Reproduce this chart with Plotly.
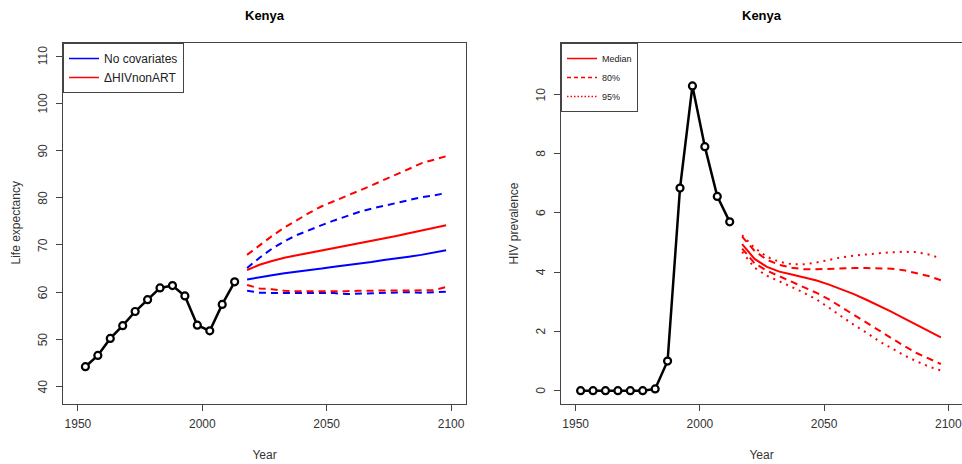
import plotly.graph_objects as go

# ---------------- data: left panel (life expectancy) ----------------
obs_years_le = [1953, 1958, 1963, 1968, 1973, 1978, 1983, 1988, 1993, 1998, 2003, 2008, 2013]
obs_le = [44.2, 46.6, 50.2, 52.9, 55.9, 58.4, 60.9, 61.4, 59.2, 53.0, 51.8, 57.4, 62.2]

proj_years_le = [2018, 2023, 2028, 2033, 2038, 2043, 2048, 2053, 2058, 2063, 2068, 2073, 2078, 2083, 2088, 2093, 2098]
nocov_median = [62.7, 63.2, 63.6, 64.0, 64.3, 64.7, 65.0, 65.4, 65.7, 66.0, 66.4, 66.8, 67.1, 67.5, 67.9, 68.4, 68.9]
nocov_upper = [65.1, 67.3, 69.2, 70.8, 72.1, 73.2, 74.2, 75.2, 76.1, 77.0, 77.7, 78.3, 78.9, 79.5, 80.1, 80.5, 81.0]
nocov_lower = [60.3, 59.9, 59.8, 59.8, 59.7, 59.7, 59.8, 59.8, 59.6, 59.7, 59.8, 59.9, 59.9, 60.0, 59.9, 60.0, 60.1]
hiv_median = [64.7, 65.8, 66.6, 67.3, 67.8, 68.3, 68.8, 69.3, 69.8, 70.3, 70.8, 71.3, 71.9, 72.5, 73.1, 73.7, 74.2]
hiv_upper = [67.9, 70.0, 71.9, 73.7, 75.3, 76.8, 78.2, 79.3, 80.4, 81.4, 82.6, 83.8, 84.9, 86.1, 87.3, 88.0, 88.8]
hiv_lower = [61.5, 60.8, 60.6, 60.3, 60.2, 60.2, 60.2, 60.1, 60.2, 60.3, 60.3, 60.4, 60.4, 60.3, 60.3, 60.4, 61.1]

# ---------------- data: right panel (HIV prevalence) ----------------
obs_years_hiv = [1952, 1957, 1962, 1967, 1972, 1977, 1982, 1987, 1992, 1997, 2002, 2007, 2012]
obs_hiv = [0.0, 0.0, 0.0, 0.0, 0.0, 0.0, 0.06, 1.0, 6.84, 10.29, 8.24, 6.56, 5.70]

proj_years_hiv = [2017, 2022, 2027, 2032, 2037, 2042, 2047, 2052, 2057, 2062, 2067, 2072, 2077, 2082, 2087, 2092, 2097]
prev_median = [4.95, 4.45, 4.18, 4.02, 3.92, 3.83, 3.72, 3.58, 3.42, 3.26, 3.07, 2.88, 2.67, 2.45, 2.23, 2.01, 1.80]
prev_80_up = [5.20, 4.72, 4.42, 4.25, 4.15, 4.10, 4.10, 4.12, 4.13, 4.14, 4.14, 4.14, 4.12, 4.07, 3.98, 3.87, 3.73]
prev_80_lo = [4.80, 4.30, 4.05, 3.86, 3.68, 3.50, 3.30, 3.08, 2.82, 2.55, 2.30, 2.05, 1.78, 1.52, 1.28, 1.08, 0.90]
prev_95_up = [5.25, 4.82, 4.52, 4.35, 4.27, 4.27, 4.33, 4.42, 4.50, 4.56, 4.61, 4.64, 4.67, 4.69, 4.68, 4.60, 4.47]
prev_95_lo = [4.69, 4.15, 3.88, 3.70, 3.50, 3.30, 3.08, 2.80, 2.50, 2.22, 1.96, 1.68, 1.44, 1.20, 1.00, 0.82, 0.68]

le_ticks = [40, 50, 60, 70, 80, 90, 100, 110]
hiv_ticks = [0, 2, 4, 6, 8, 10]
year_ticks = [1950, 2000, 2050, 2100]

left_legend_names = ["No covariates", "\u0394HIVnonART"]
right_legend_names = ["Median", "80%", "95%"]

RED = "#FF0000"
BLUE = "#0000FF"
DASH = "7px,5px"
DOT = "2px,5px"
FONT = "Liberation Sans, Arial, Helvetica, sans-serif"

fig = go.Figure()

# ---- left panel ----
for ys, col, dash in [(nocov_median, BLUE, "solid"), (hiv_median, RED, "solid"),
                      (nocov_upper, BLUE, DASH), (nocov_lower, BLUE, DASH),
                      (hiv_upper, RED, DASH), (hiv_lower, RED, DASH)]:
    fig.add_trace(go.Scatter(x=proj_years_le, y=ys, mode="lines", showlegend=False,
                             line=dict(color=col, width=2, dash=dash), xaxis="x", yaxis="y"))
fig.add_trace(go.Scatter(x=obs_years_le, y=obs_le, mode="lines+markers", showlegend=False,
                         line=dict(color="black", width=2.5),
                         marker=dict(symbol="circle", size=7, color="white",
                                     line=dict(color="black", width=2.2)),
                         xaxis="x", yaxis="y"))
# legend entries (thin lines, as in the original legend)
for name, col in zip(left_legend_names, [BLUE, RED]):
    fig.add_trace(go.Scatter(x=[None], y=[None], mode="lines", name=name, legend="legend",
                             line=dict(color=col, width=1.5, dash="solid"),
                             xaxis="x", yaxis="y"))

# ---- right panel ----
for ys, dash in [(prev_median, "solid"), (prev_80_up, DASH), (prev_80_lo, DASH),
                 (prev_95_up, DOT), (prev_95_lo, DOT)]:
    fig.add_trace(go.Scatter(x=proj_years_hiv, y=ys, mode="lines", showlegend=False,
                             line=dict(color=RED, width=2, dash=dash), xaxis="x2", yaxis="y2"))
fig.add_trace(go.Scatter(x=obs_years_hiv, y=obs_hiv, mode="lines+markers", showlegend=False,
                         line=dict(color="black", width=2.5),
                         marker=dict(symbol="circle", size=7, color="white",
                                     line=dict(color="black", width=2.2)),
                         xaxis="x2", yaxis="y2"))
for name, dash in zip(right_legend_names, ["solid", "4px,3px", "1.5px,2px"]):
    fig.add_trace(go.Scatter(x=[None], y=[None], mode="lines", name=name, legend="legend2",
                             line=dict(color=RED, width=1.5, dash=dash),
                             xaxis="x2", yaxis="y2"))

Y0, Y1 = 1 - 404 / 464, 1 - 43 / 464
axcol = "#444444"
tickfont = dict(family=FONT, size=12, color="#333333")
titlefont = dict(family=FONT, size=12, color="#333333")

common_x = dict(showgrid=False, zeroline=False, showline=True, linecolor=axcol, linewidth=1,
                ticks="outside", ticklen=6, tickcolor=axcol, tickvals=year_ticks,
                tickfont=tickfont, ticklabelstandoff=3, ticklabeloverflow="allow",
                title=dict(text="Year", font=titlefont, standoff=20))
common_y = dict(showgrid=False, zeroline=False, showline=True, linecolor=axcol, linewidth=1,
                ticks="outside", ticklen=6, tickcolor=axcol, showticklabels=False)

annotations = [
    dict(text="<b>Kenya</b>", x=264.5 / 962, y=1 - 15 / 464, xref="paper", yref="paper",
         showarrow=False, xanchor="center", yanchor="middle",
         font=dict(family=FONT, size=13, color="black")),
    dict(text="<b>Kenya</b>", x=762 / 962, y=1 - 15 / 464, xref="paper", yref="paper",
         showarrow=False, xanchor="center", yanchor="middle",
         font=dict(family=FONT, size=13, color="black")),
    dict(text="Life expectancy", x=15 / 962, y=(Y0 + Y1) / 2, xref="paper", yref="paper",
         showarrow=False, textangle=-90, xanchor="center", yanchor="middle", font=titlefont),
    dict(text="HIV prevalence", x=513 / 962, y=(Y0 + Y1) / 2, xref="paper", yref="paper",
         showarrow=False, textangle=-90, xanchor="center", yanchor="middle", font=titlefont),
]
# rotated y tick labels (R style), placed at the tick values on each y axis
for v in le_ticks:
    annotations.append(dict(text=str(v), x=43 / 962, y=v, xref="paper", yref="y",
                            showarrow=False, textangle=-90, xanchor="center", yanchor="middle",
                            font=tickfont))
for v in hiv_ticks:
    annotations.append(dict(text=str(v), x=541 / 962, y=v, xref="paper", yref="y2",
                            showarrow=False, textangle=-90, xanchor="center", yanchor="middle",
                            font=tickfont))

fig.update_layout(
    width=962, height=464,
    margin=dict(l=0, r=0, t=0, b=0),
    paper_bgcolor="white", plot_bgcolor="white",
    font=dict(family=FONT, color="#333333"),
    xaxis=dict(common_x, domain=[63 / 962, 466 / 962], range=[1944, 2106], anchor="y", mirror=True),
    yaxis=dict(common_y, domain=[Y0, Y1], range=[36.3, 112.8], anchor="x", mirror=True,
               tickvals=le_ticks),
    xaxis2=dict(common_x, domain=[561 / 962, 1.0], range=[1944.1, 2105.5], anchor="y2", mirror=True),
    yaxis2=dict(common_y, domain=[Y0, Y1], range=[-0.45, 11.74], anchor="x2", mirror=False,
                tickvals=hiv_ticks),
    legend=dict(x=63 / 962, y=Y1, xanchor="left", yanchor="top", bgcolor="white",
                bordercolor=axcol, borderwidth=1, font=dict(family=FONT, size=12, color="#222222"),
                itemwidth=30, tracegroupgap=0),
    legend2=dict(x=561 / 962, y=Y1, xanchor="left", yanchor="top", bgcolor="white",
                 bordercolor=axcol, borderwidth=1, font=dict(family=FONT, size=9, color="#222222"),
                 itemwidth=30, tracegroupgap=0),
    annotations=annotations,
)

fig.write_html("out.html", config={"displayModeBar": False},
               post_script="document.body.style.margin='0px';")
